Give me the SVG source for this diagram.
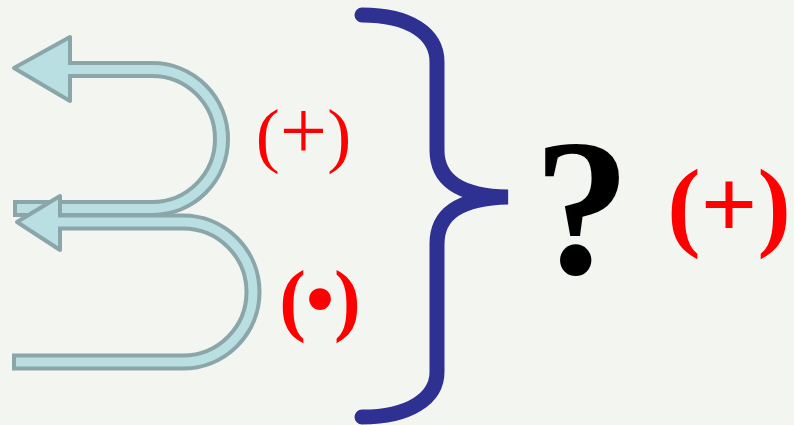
<svg xmlns="http://www.w3.org/2000/svg" width="794" height="425" viewBox="0 0 794 425">
<style>
.outer{fill:none;stroke:#8aa6a8;stroke-width:17}
.inner{fill:none;stroke:#b9dfe3;stroke-width:9}
.head{fill:#b9dfe3;stroke:#8aa6a8;stroke-width:4;stroke-linejoin:round}
.red{fill:#ff0000;font-family:"Liberation Serif","Times New Roman",serif;text-anchor:middle}
</style>
<rect width="794" height="425" fill="#f3f5f0"/>
<g id="connectors">
<g id="arrow1">
<path class="outer" d="M 66 69.5 H 152 A 69 69 0 0 1 152 208.5 H 13"/>
<polygon class="head" points="14,68 70,37 70,101"/>
<path class="inner" d="M 66 69.5 H 152 A 69 69 0 0 1 152 208.5 H 17"/>
</g>
<g id="arrow2">
<path class="outer" d="M 56 222 H 183 A 70 70 0 0 1 183 362 H 12"/>
<polygon class="head" points="17,222 60,196 60,250"/>
<path class="inner" d="M 56 222 H 183 A 70 70 0 0 1 183 362 H 16"/>
</g>
<path id="brace" d="M 362 15 C 410 15 437 34 437 62 V 150 C 437 180 460 196 508 197 C 460 198 437 214 437 244 V 372 C 437 398 410 417 362 417" fill="none" stroke="#2e3192" stroke-width="15" stroke-linecap="round"/>
</g>
<g id="label-plus"><text class="red" x="303.5" y="159" font-size="72">(<tspan font-size="84">+</tspan>)</text></g>
<g id="label-dot"><text class="red" x="320" y="326" font-size="80" font-weight="bold">(•)</text></g>
<g id="question"><text x="582" y="273" font-size="194" font-weight="bold" text-anchor="middle" font-family="Liberation Serif,'Times New Roman',serif" fill="#000">?</text></g>
<g id="result"><text class="red" x="729" y="238" font-size="100" font-weight="bold">(+)</text></g>
</svg>
